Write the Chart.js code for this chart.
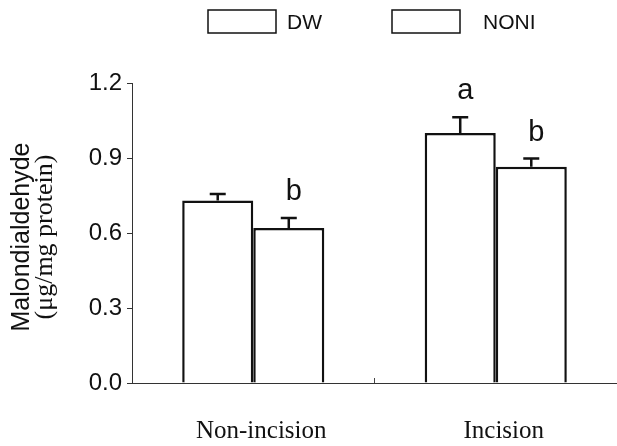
<!DOCTYPE html>
<html lang="en">
<head>
    <meta charset="UTF-8">
    <title>Malondialdehyde</title>
    <script src="https://cdn.jsdelivr.net/npm/chart.js"></script>
    <style>
        html, body { margin: 0; padding: 0; background: #fff; }
        #grafico { width: 617px; height: 446px; }
    </style>
</head>
<body>
<div id="grafico"><canvas id="myChart"></canvas></div>

<script>
    const categorias = ['Non-incision', 'Incision'];
    const seriesNomes = ['DW', 'NONI'];
    const valoresDW = [0.73, 1.00];
    const valoresNONI = [0.62, 0.865];
    const erroDW = [0.026, 0.063];
    const erroNONI = [0.04, 0.033];
    const letrasDW = ['', 'a'];
    const letrasNONI = ['b', 'b'];
    const yTicks = [0.0, 0.3, 0.6, 0.9, 1.2];

    const erros = [erroDW, erroNONI];
    const letras = [letrasDW, letrasNONI];
    const tinta = '#111';

    // barras de erro, letras, legenda e titulo do eixo y
    const extras = {
        id: 'extras',
        afterDatasetsDraw(chart) {
            const ctx = chart.ctx;
            const y = chart.scales.y;
            ctx.save();
            ctx.strokeStyle = tinta;
            ctx.fillStyle = tinta;
            ctx.lineWidth = 2.5;
            chart.data.datasets.forEach((ds, i) => {
                const meta = chart.getDatasetMeta(i);
                meta.data.forEach((bar, j) => {
                    const topo = y.getPixelForValue(ds.data[j] + erros[i][j]);
                    ctx.beginPath();
                    ctx.moveTo(bar.x, bar.y);
                    ctx.lineTo(bar.x, topo);
                    ctx.moveTo(bar.x - 8, topo);
                    ctx.lineTo(bar.x + 8, topo);
                    ctx.stroke();
                    if (letras[i][j]) {
                        ctx.font = '29px "Liberation Sans", Arial, sans-serif';
                        ctx.textAlign = 'center';
                        ctx.textBaseline = 'alphabetic';
                        ctx.fillText(letras[i][j], bar.x + 5, topo - 18);
                    }
                });
            });
            ctx.restore();
        },
        afterDraw(chart) {
            const ctx = chart.ctx;
            const area = chart.chartArea;
            ctx.save();
            ctx.fillStyle = tinta;

            // titulo eixo y
            const cy = (area.top + area.bottom) / 2 + 4;
            ctx.textAlign = 'center';
            ctx.textBaseline = 'middle';
            ctx.translate(22, cy);
            ctx.rotate(-Math.PI / 2);
            ctx.font = '25px "Liberation Sans", Arial, sans-serif';
            ctx.fillText('Malondialdehyde', 0, 0);
            ctx.font = '26px "Liberation Serif", "Times New Roman", serif';
            ctx.fillText('(\u03bcg/mg protein)', 0, 23);
            ctx.setTransform(1, 0, 0, 1, 0, 0);

            // legenda
            const caixas = [{x: 208, t: 287}, {x: 392, t: 483}];
            ctx.strokeStyle = tinta;
            ctx.lineWidth = 1.5;
            ctx.font = '21px "Liberation Sans", Arial, sans-serif';
            ctx.textAlign = 'left';
            ctx.textBaseline = 'middle';
            seriesNomes.forEach((nome, i) => {
                ctx.fillStyle = '#fff';
                ctx.fillRect(caixas[i].x, 10, 68, 23);
                ctx.strokeRect(caixas[i].x, 10, 68, 23);
                ctx.fillStyle = tinta;
                ctx.fillText(nome, caixas[i].t, 23);
            });
            ctx.restore();
        }
    };

    new Chart(document.getElementById('myChart'), {
        type: 'bar',
        data: {
            labels: categorias,
            datasets: [{
                label: seriesNomes[0],
                data: valoresDW,
                backgroundColor: '#fff',
                borderColor: tinta,
                borderWidth: 2.5,
                barPercentage: 1,
                categoryPercentage: 0.586
            }, {
                label: seriesNomes[1],
                data: valoresNONI,
                backgroundColor: '#fff',
                borderColor: tinta,
                borderWidth: 2.5,
                barPercentage: 1,
                categoryPercentage: 0.586
            }]
        },
        options: {
            responsive: true,
            maintainAspectRatio: false,
            animation: false,
            layout: { padding: { left: 88, top: 83, right: 0, bottom: 0 } },
            plugins: {
                legend: { display: false },
                tooltip: { enabled: false }
            },
            scales: {
                x: {
                    afterFit: s => { s.height = 63; },
                    grid: {
                        drawOnChartArea: false,
                        offset: true,
                        tickLength: -5,
                        color: '#444'
                    },
                    border: { color: '#333', width: 1 },
                    ticks: {
                        color: tinta,
                        padding: 38,
                        labelOffset: 8,
                        font: { family: '"Liberation Serif", "Times New Roman", serif', size: 25 }
                    }
                },
                y: {
                    min: 0,
                    max: 1.2,
                    afterFit: s => { s.width = 44; },
                    afterBuildTicks: s => { s.ticks = yTicks.map(v => ({ value: v })); },
                    grid: {
                        drawOnChartArea: false,
                        tickLength: 5,
                        color: '#333'
                    },
                    border: { color: '#333', width: 1 },
                    ticks: {
                        color: tinta,
                        padding: 5,
                        callback: v => Number(v).toFixed(1),
                        font: { family: '"Liberation Sans", Arial, sans-serif', size: 24 }
                    }
                }
            }
        },
        plugins: [extras]
    });
</script>
</body>
</html>
